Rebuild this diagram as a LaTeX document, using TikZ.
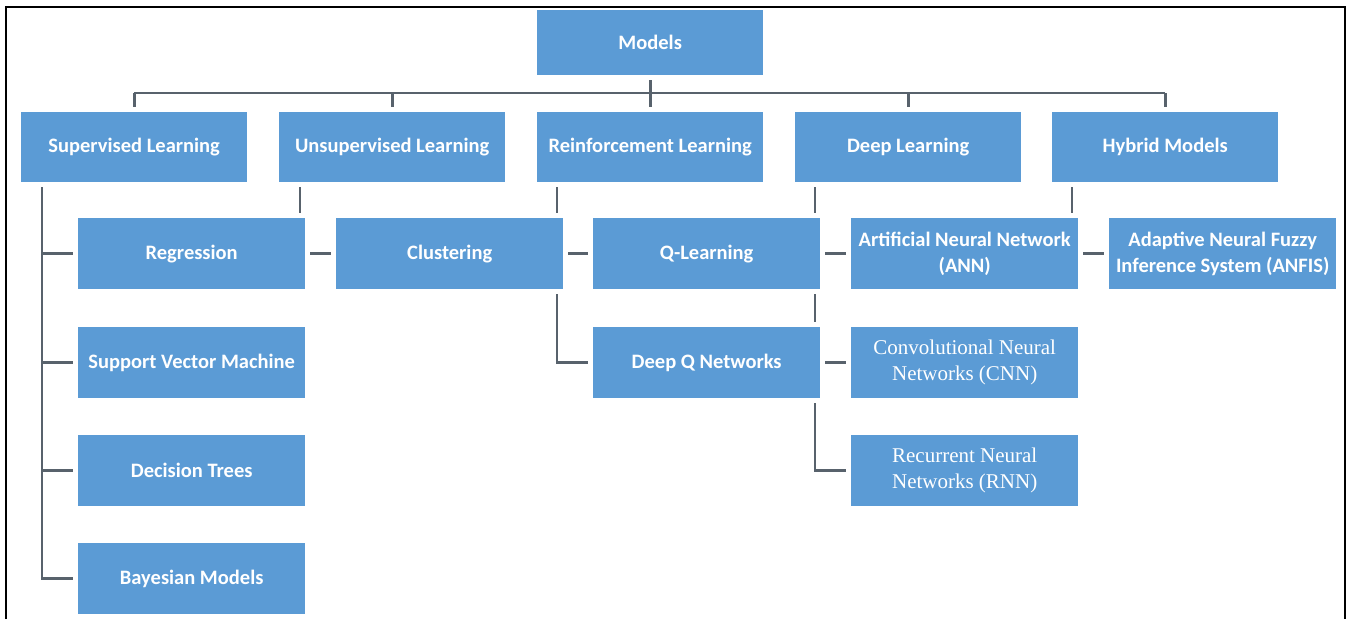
\documentclass[tikz,border=0pt]{standalone}
\usepackage{fontspec}
\setmainfont{Carlito}
\newfontfamily\serifface{Liberation Serif}
\pgfdeclarelayer{background}
\pgfdeclarelayer{foreground}
\pgfsetlayers{background,main,foreground}
\definecolor{boxblue}{RGB}{91,155,213}
\definecolor{linkgray}{RGB}{88,98,108}
\tikzset{
  blk/.style={rectangle, anchor=north west, inner sep=0pt, fill=boxblue,
    preaction={draw=white, line width=10pt},
    text=white, align=center, font=\bfseries\fontsize{20.5}{26}\selectfont},
  topbox/.style={blk, minimum width=226pt, minimum height=70pt},
  subbox/.style={blk, minimum width=227pt, minimum height=71pt},
  serifbox/.style={subbox, font=\serifface\fontsize{21}{26}\selectfont},
  link/.style={draw=linkgray, line width=2.6pt},
  frameline/.style={draw=black, line width=2.6pt}
}
\begin{document}
\begin{tikzpicture}[x=1pt, y=-1pt]
\useasboundingbox (0,0) rectangle (1348,619);

% root
\node[topbox, minimum height=65pt] (models) at (537,10) {Models};

% first level
\node[topbox] (sup)   at (21,112)   {Supervised Learning};
\node[topbox] (unsup) at (279,112)  {Unsupervised Learning};
\node[topbox] (rein)  at (537,112)  {Reinforcement Learning};
\node[topbox] (deep)  at (795,112)  {Deep Learning};
\node[topbox] (hyb)   at (1052,112) {Hybrid Models};

% second level
\node[subbox] (reg)  at (78,218)  {Regression};
\node[subbox] (svm)  at (78,327)  {Support Vector Machine};
\node[subbox] (dt)   at (78,435)  {Decision Trees};
\node[subbox] (bay)  at (78,543)  {Bayesian Models};
\node[subbox] (clu)  at (336,218) {Clustering};
\node[subbox] (ql)   at (593,218) {Q-Learning};
\node[subbox] (dqn)  at (593,327) {Deep Q Networks};
\node[subbox] (ann)  at (851,218) {Artificial Neural Network\\(ANN)};
\node[serifbox] (cnn) at (851,327) {Convolutional Neural\\Networks (CNN)};
\node[serifbox] (rnn) at (851,435) {Recurrent Neural\\Networks (RNN)};
\node[subbox] (anfis) at (1109,218) {Adaptive Neural Fuzzy\\Inference System (ANFIS)};

% spine positions of each branch
\coordinate (bus) at (0,93);
\coordinate (supx)   at ([xshift=21pt]sup.south west);
\coordinate (unsupx) at ([xshift=21pt]unsup.south west);
\coordinate (reinx)  at ([xshift=20pt]rein.south west);
\coordinate (deepx)  at ([xshift=20pt]deep.south west);
\coordinate (hybx)   at ([xshift=20pt]hyb.south west);

\begin{pgfonlayer}{background}
  % root to first level
  \draw[link] (models.south) -- (models.south |- bus);
  \draw[link] (sup.north |- bus) -- (hyb.north |- bus);
  \foreach \n in {sup,unsup,rein,deep,hyb}
    \draw[link] (\n.north |- bus) -- (\n.north);

  % supervised learning
  \draw[link] (supx) |- (bay.west);
  \foreach \n in {reg,svm,dt}
    \draw[link] (supx |- \n.west) -- (\n.west);

  % unsupervised learning
  \draw[link] (unsupx) |- (clu.west);

  % reinforcement learning
  \draw[link] (reinx) |- (dqn.west);
  \draw[link] (reinx |- ql.west) -- (ql.west);

  % deep learning
  \draw[link] (deepx) |- (rnn.west);
  \foreach \n in {ann,cnn}
    \draw[link] (deepx |- \n.west) -- (\n.west);

  % hybrid models
  \draw[link] (hybx) |- (anfis.west);
\end{pgfonlayer}

% outer frame (open at the bottom), drawn over everything
\begin{pgfonlayer}{foreground}
  \draw[frameline] (6,619) -- (6,7) -- (1345,7) -- (1345,619);
\end{pgfonlayer}
\end{tikzpicture}
\end{document}
